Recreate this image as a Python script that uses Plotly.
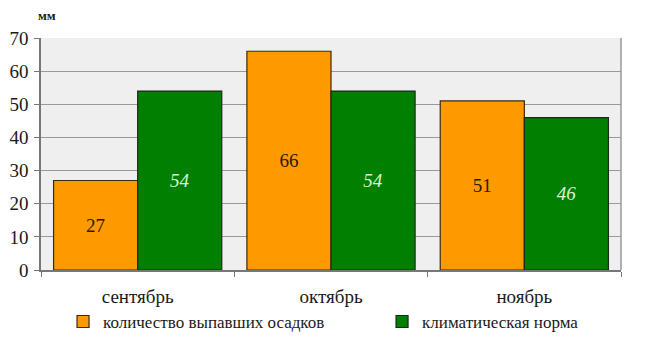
import plotly.graph_objects as go

months = ["сентябрь", "октябрь", "ноябрь"]
fallen = [27, 66, 51]
norm = [54, 54, 46]
name_fallen = "количество выпавших осадков"
name_norm = "климатическая норма"

font = "Liberation Serif"

fig = go.Figure()
fig.add_trace(go.Bar(
    x=months, y=fallen, name=name_fallen, legend="legend",
    marker=dict(color="#ff9900", line=dict(color="#3a2a10", width=1.2)),
    text=fallen, textposition="inside", insidetextanchor="middle",
    textfont=dict(family=font, size=19, color="#2a1a00"),
))
fig.add_trace(go.Bar(
    x=months, y=norm, name=name_norm, legend="legend2",
    marker=dict(color="#007f00", line=dict(color="#1a2a1a", width=1.2)),
    text=norm, textposition="inside", insidetextanchor="middle",
    texttemplate="<i>%{text}</i>",
    textfont=dict(family=font, size=19, color="#d8f5d8"),
))

leg = dict(orientation="h", xanchor="left", y=-0.224, yanchor="middle",
           font=dict(family=font, size=17, color="#1a1a1a"), itemwidth=30,
           bgcolor="rgba(0,0,0,0)")

fig.update_layout(
    width=641, height=348,
    margin=dict(l=33, r=28, t=30, b=86, autoexpand=False),
    barmode="group", bargap=0.13, bargroupgap=0,
    plot_bgcolor="#efefef", paper_bgcolor="white",
    font=dict(family=font, size=18, color="#1a1a1a"),
    showlegend=True,
    legend=dict(leg, x=0.038),
    legend2=dict(leg, x=0.588),
    xaxis=dict(showgrid=False, ticks="outside", tickson="boundaries", ticklen=5,
               tickcolor="#777", showline=True, linecolor="#777", linewidth=1.5,
               mirror=False, tickfont=dict(size=19), automargin=False,
               ticklabelstandoff=8),
    yaxis=dict(range=[0, 70], dtick=10, showgrid=True, gridcolor="#999", gridwidth=1,
               ticks="outside", ticklen=5, tickcolor="#777", showline=True,
               linecolor="#777", linewidth=1.5, tickfont=dict(size=19), zeroline=False,
               automargin=False, ticklabelstandoff=2),
    annotations=[dict(text="<b>мм</b>", xref="paper", yref="paper", x=-0.008, y=1.055,
                      xanchor="left", yanchor="bottom", showarrow=False,
                      font=dict(family=font, size=13, color="#1a1a1a"))],
    shapes=[dict(type="line", xref="paper", yref="paper", x0=1, x1=1, y0=0, y1=1,
                 line=dict(color="#999", width=1.5))],
)

fig.write_html("out.html")
